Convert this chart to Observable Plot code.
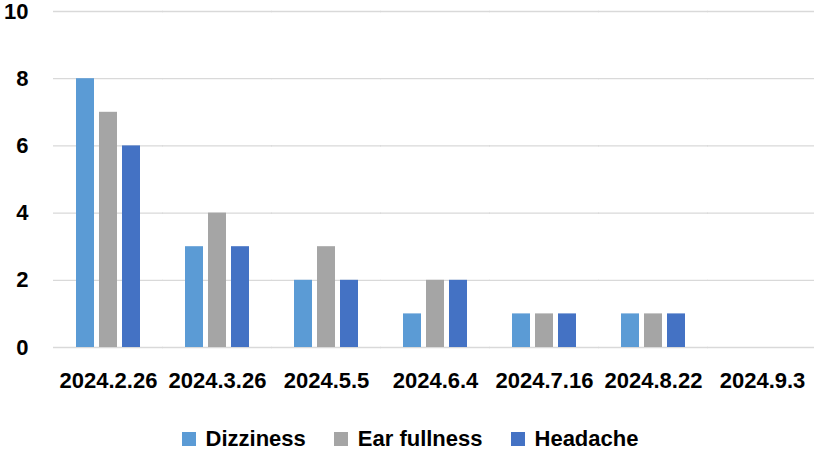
<!DOCTYPE html>
<html>
<head>
<meta charset="utf-8">
<script src="https://cdn.jsdelivr.net/npm/d3@7"></script>
<script src="https://cdn.jsdelivr.net/npm/@observablehq/plot@0.6"></script>
<style>
  html, body { margin: 0; padding: 0; background: #fff; }
  #chart { width: 814px; }
  #chart svg text { font-weight: bold; }
  .legend { display: flex; justify-content: center; align-items: center; height: 40px; margin-top: 9px;
    font-family: "Liberation Sans", Arial, sans-serif; font-weight: bold; font-size: 22px; color: #000; margin-left: 6px; }
  .legend .item { display: flex; align-items: center; margin: 0 14px; }
  .legend .sw { width: 14px; height: 14px; margin-right: 10px; }
</style>
</head>
<body>
<div id="chart"></div>
<script>
const categories = ["2024.2.26", "2024.3.26", "2024.5.5", "2024.6.4", "2024.7.16", "2024.8.22", "2024.9.3"];
const series = ["Dizziness", "Ear fullness", "Headache"];
const dizziness = [8, 3, 2, 1, 1, 1, 0];
const earFullness = [7, 4, 3, 2, 1, 1, 0];
const headache = [6, 3, 2, 2, 1, 1, 0];
const colors = ["#5B9BD5", "#A5A5A5", "#4472C4"];
const yTicks = [0, 2, 4, 6, 8, 10];

const values = [dizziness, earFullness, headache];
const data = [];
categories.forEach((c, i) => {
  series.forEach((s, j) => data.push({date: c, series: s, value: values[j][i]}));
});

const FS = 22;
const chart = Plot.plot({
  width: 814,
  height: 410,
  marginLeft: 51,
  marginRight: -6,
  marginTop: 11,
  marginBottom: 63,
  style: {fontFamily: "Liberation Sans, Arial, sans-serif", fontSize: FS + "px", fontWeight: "bold", color: "#000", background: "#fff"},
  fx: {domain: categories, paddingInner: 0.39, paddingOuter: 0.195, label: null},
  x: {domain: series, paddingInner: 0.2, paddingOuter: 0, axis: null},
  y: {domain: [0, 10], label: null},
  color: {domain: series, range: colors},
  marks: [
    Plot.ruleY(yTicks, {stroke: "#d9d9d9", strokeWidth: 1.3, insetLeft: -22, insetRight: -22}),
    Plot.barY(data, {fx: "date", x: "series", y: "value", fill: "series"}),
    Plot.axisY(yTicks, {tickSize: 0, tickPadding: 47, label: null, fill: "#000", fontSize: FS}),
    Plot.axisFx({anchor: "bottom", tickSize: 0, tickPadding: 25, label: null, fill: "#000", fontSize: FS})
  ]
});
document.getElementById("chart").appendChild(chart);

const legend = document.createElement("div");
legend.className = "legend";
series.forEach((s, i) => {
  const item = document.createElement("div");
  item.className = "item";
  const sw = document.createElement("span");
  sw.className = "sw";
  sw.style.background = colors[i];
  const t = document.createElement("span");
  t.textContent = s;
  item.appendChild(sw);
  item.appendChild(t);
  legend.appendChild(item);
});
document.getElementById("chart").appendChild(legend);
</script>
</body>
</html>
